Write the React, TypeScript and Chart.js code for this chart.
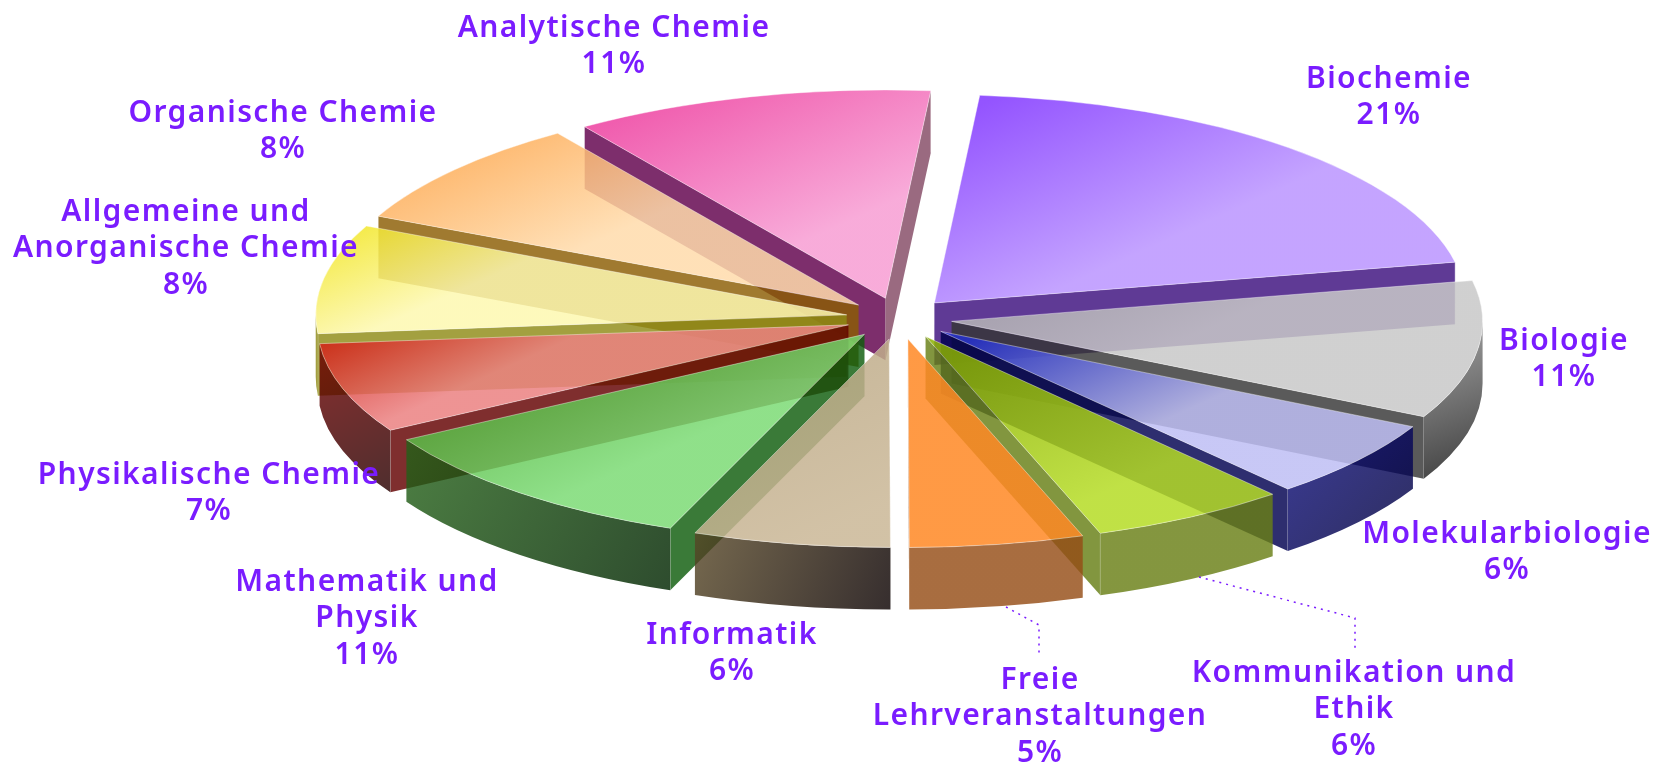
import React, { useEffect, useRef } from "react";
import { Chart, registerables } from "chart.js";

Chart.register(...registerables);

const categories = [
  ["Biochemie"],
  ["Biologie"],
  ["Molekularbiologie"],
  ["Kommunikation und", "Ethik"],
  ["Freie", "Lehrveranstaltungen"],
  ["Informatik"],
  ["Mathematik und", "Physik"],
  ["Physikalische Chemie"],
  ["Allgemeine und", "Anorganische Chemie"],
  ["Organische Chemie"],
  ["Analytische Chemie"],
];
const shares = [20.5, 10.7, 6.1, 6.0, 5.3, 6.0, 10.6, 7.0, 8.45, 8.4, 10.95];

const topFrom = ["#9454ff", "#bcbcbc", "#4650d6", "#9cbc12", "#ff9a45", "#c6b698", "#5fb548", "#d83c34", "#f4ea44", "#fdb060", "#f058ac"];
const topTo = ["#c4a4ff", "#d0d0d0", "#c8c8f6", "#c0e146", "#ff9a45", "#d2c2a6", "#90e08a", "#ee9494", "#fdf9bc", "#ffe0b8", "#f8acda"];
const edgeStart = ["#5f3a95", "#505050", "#0a0a70", "#7f9440", "#a86d40", "#6b5c42", "#3a7a38", "#7f2a2a", "#a3a040", "#a07a30", "#7d2c6c"];
const edgeEnd = ["#5f3a95", "#5a5a5a", "#25256f", "#82963f", "#a86d40", "#6b5c42", "#3a7a38", "#7f2a2a", "#a3a040", "#a07a30", "#9a6a80"];
const outerFrom = ["#5f3a95", "#a6a6a6", "#3a3a96", "#84963f", "#a86d40", "#75684e", "#4c7e42", "#8a2a22", "#a3a040", "#a07a30", "#7d2c6c"];
const outerTo = ["#5f3a95", "#3d3d3d", "#00005e", "#84963f", "#a86d40", "#362c1c", "#154c10", "#4f0000", "#a3a040", "#a07a30", "#7d2c6c"];

const labelColor = "#7a1cff";
const labelFont = '600 30px "Noto Sans"';
const labelAnchors = [
  [1389, 79], [1564, 341], [1507, 534], [1354, 673], [1040, 680], [732, 635],
  [367, 582], [209, 475], [186, 212], [283, 113], [614, 28],
];
const leaderLines: Record<number, number[][]> = {
  3: [[1199, 577], [1355, 618], [1355, 648]],
  4: [[1006, 607], [1039, 625], [1039, 655]],
};

const CX = 899;
const CY = 318.5;
const RX = 531;
const RY = 208.4;
const DEPTH = 62;
const EXPLODE = 0.1;
const TOP_ALPHA = 0.85;
const WALL_ALPHA = 0.82;

// Colour that, painted at alpha a, looks like hex on white paper.
function veil(hex: string, a: number) {
  const n = parseInt(hex.slice(1), 16);
  const c = [(n >> 16) & 255, (n >> 8) & 255, n & 255].map((v) =>
    Math.max(0, Math.round((v - 255 * (1 - a)) / a))
  );
  return `rgba(${c[0]},${c[1]},${c[2]},${a})`;
}

const piePainter = {
  id: "piePainter",
  beforeDatasetsDraw(chart: any) {
    const ctx: CanvasRenderingContext2D = chart.ctx;
    const arcs = chart.getDatasetMeta(0).data.map((arc: any, i: number) => {
      const mid = (arc.startAngle + arc.endAngle) / 2;
      return {
        i,
        a0: arc.startAngle,
        a1: arc.endAngle,
        mid,
        sx: CX + Math.cos(mid) * RX * EXPLODE,
        sy: CY + Math.sin(mid) * RY * EXPLODE,
      };
    });
    arcs.sort((p: any, q: any) => Math.sin(p.mid) - Math.sin(q.mid));
    for (const s of arcs) {
      const pt = (t: number) => [s.sx + RX * Math.cos(t), s.sy + RY * Math.sin(t)];
      const [x0, y0] = pt(s.a0);
      const [x1, y1] = pt(s.a1);
      const quad = (x: number, y: number, fill: string) => {
        ctx.beginPath();
        ctx.moveTo(s.sx, s.sy);
        ctx.lineTo(x, y);
        ctx.lineTo(x, y + DEPTH);
        ctx.lineTo(s.sx, s.sy + DEPTH);
        ctx.closePath();
        ctx.fillStyle = veil(fill, WALL_ALPHA);
        ctx.fill();
        ctx.strokeStyle = "rgba(255,255,255,0.35)";
        ctx.lineWidth = 1;
        ctx.beginPath();
        ctx.moveTo(x, y);
        ctx.lineTo(x, y + DEPTH);
        ctx.stroke();
      };
      if (x0 < s.sx - 1) quad(x0, y0, edgeStart[s.i]);
      if (x1 > s.sx + 1) quad(x1, y1, edgeEnd[s.i]);
      const w0 = Math.max(s.a0, 0);
      const w1 = Math.min(s.a1, Math.PI);
      if (w1 > w0) {
        const [ax, ay] = pt(w0);
        const [bx, by] = pt(w1);
        const g = ctx.createLinearGradient(Math.min(ax, bx), Math.min(ay, by), Math.max(ax, bx), Math.max(ay, by) + DEPTH);
        g.addColorStop(0, veil(outerFrom[s.i], WALL_ALPHA));
        g.addColorStop(1, veil(outerTo[s.i], WALL_ALPHA));
        ctx.beginPath();
        ctx.ellipse(s.sx, s.sy, RX, RY, 0, w0, w1);
        ctx.ellipse(s.sx, s.sy + DEPTH, RX, RY, 0, w1, w0, true);
        ctx.closePath();
        ctx.fillStyle = g;
        ctx.fill();
      }
      const samples = [[s.sx, s.sy], [x0, y0], [x1, y1]];
      for (let t = s.a0; t < s.a1; t += 0.05) samples.push(pt(t));
      const xs = samples.map((p) => p[0]);
      const ys = samples.map((p) => p[1]);
      const minX = Math.min(...xs);
      const minY = Math.min(...ys);
      const maxY = Math.max(...ys);
      const g = ctx.createLinearGradient(minX, minY, minX + (maxY - minY) * 0.45, maxY);
      g.addColorStop(0.12, veil(topFrom[s.i], TOP_ALPHA));
      g.addColorStop(1, veil(topTo[s.i], TOP_ALPHA));
      ctx.beginPath();
      ctx.moveTo(s.sx, s.sy);
      ctx.ellipse(s.sx, s.sy, RX, RY, 0, s.a0, s.a1);
      ctx.closePath();
      ctx.fillStyle = g;
      ctx.fill();
      ctx.strokeStyle = "rgba(255,255,255,0.4)";
      ctx.lineWidth = 1;
      ctx.stroke();
    }
    return false;
  },
  afterDraw(chart: any) {
    const ctx: CanvasRenderingContext2D = chart.ctx;
    ctx.save();
    ctx.strokeStyle = labelColor;
    ctx.lineWidth = 1.5;
    ctx.setLineDash([2, 5]);
    Object.values(leaderLines).forEach((line) => {
      ctx.beginPath();
      line.forEach(([x, y], k) => (k ? ctx.lineTo(x, y) : ctx.moveTo(x, y)));
      ctx.stroke();
    });
    ctx.setLineDash([]);
    ctx.fillStyle = labelColor;
    ctx.font = labelFont;
    (ctx as any).letterSpacing = "1.4px";
    ctx.textAlign = "center";
    ctx.textBaseline = "middle";
    categories.forEach((lines, i) => {
      const [x, y] = labelAnchors[i];
      [...lines, `${Math.round(shares[i])}%`].forEach((text, k) => ctx.fillText(text, x, y + k * 36.5));
    });
    ctx.restore();
  },
};

export default function App() {
  const ref = useRef<HTMLCanvasElement>(null);
  useEffect(() => {
    document.body.style.margin = "0";
    document.body.style.background = "#ffffff";
    const chart = new Chart(ref.current as HTMLCanvasElement, {
      type: "pie",
      data: {
        labels: categories.map((c) => c.join(" ")),
        datasets: [{ data: shares, backgroundColor: topFrom, borderWidth: 0 }],
      },
      options: {
        responsive: false,
        animation: false,
        rotation: 4.9,
        plugins: { legend: { display: false }, tooltip: { enabled: false } },
      },
      plugins: [piePainter],
    } as any);
    return () => chart.destroy();
  }, []);
  return <canvas ref={ref} width={1660} height={764} style={{ display: "block", filter: "blur(0.4px)" }} />;
}
